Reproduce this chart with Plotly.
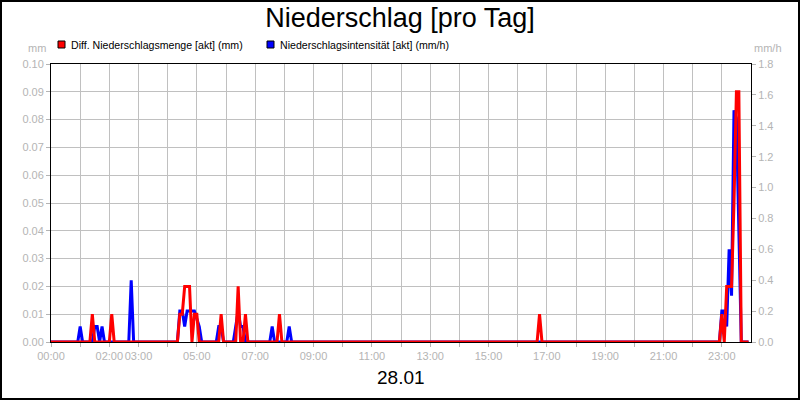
import pandas as pd
import plotly.graph_objects as go

# 5-minute values, only the non-zero ones are listed
red_times = ["01:25", "02:05",
             "04:25", "04:30", "04:35", "04:40", "04:45", "04:55", "05:00",
             "05:50", "06:25", "06:40", "07:50", "16:45",
             "23:00", "23:10", "23:15", "23:20", "23:25", "23:30", "23:35"]
red_values = [0.01, 0.01,
              0.01, 0.01, 0.02, 0.02, 0.02, 0.01, 0.01,
              0.01, 0.02, 0.01, 0.01, 0.01,
              0.01, 0.02, 0.02, 0.02, 0.05, 0.09, 0.09]

blue_times = ["01:00", "01:30", "01:35", "01:45", "02:45",
              "04:25", "04:30", "04:35", "04:40", "04:45", "04:50", "04:55", "05:00", "05:05",
              "05:45", "05:50", "06:20", "06:25", "06:30", "06:35",
              "07:35", "08:10",
              "23:00", "23:05", "23:10", "23:15", "23:20", "23:25", "23:30", "23:35"]
blue_values = [0.1, 0.1, 0.1, 0.1, 0.4,
               0.2, 0.2, 0.1, 0.2, 0.2, 0.2, 0.2, 0.15, 0.1,
               0.1, 0.1, 0.1, 0.2, 0.1, 0.1,
               0.1, 0.1,
               0.2, 0.2, 0.1, 0.6, 0.3, 1.5, 1.45, 0.7]

day = "2024-01-28"
hour_labels = ["00:00", "", "02:00", "03:00", "", "05:00", "", "07:00", "", "09:00", "",
               "11:00", "", "13:00", "", "15:00", "", "17:00", "", "19:00", "",
               "21:00", "", "23:00"]

times = pd.date_range(day + " 00:00", periods=288, freq="5min")
labels = times.strftime("%H:%M")
red_map = dict(zip(red_times, red_values))
blue_map = dict(zip(blue_times, blue_values))
red = [red_map.get(t, 0.0) for t in labels]
blue = [blue_map.get(t, 0.0) for t in labels]
hours = pd.date_range(day + " 00:00", periods=24, freq="h")

W, H = 800, 400
L, R, T, B = 51, 49, 64, 58
pw, ph = W - L - R, H - T - B


def px_x(x):
    return (x - L) / pw


def px_y(y):
    return (H - B - y) / ph


FONT = "Liberation Sans, Arial, sans-serif"
GREY = "#b4b4b4"

fig = go.Figure()

fig.add_trace(go.Scatter(
    x=times, y=blue, yaxis="y", mode="lines",
    line=dict(color="#0000ff", width=3), showlegend=False
))
fig.add_trace(go.Scatter(
    x=times, y=red, yaxis="y2", mode="lines",
    line=dict(color="#ff0000", width=3), showlegend=False
))

legend_items = [("#ff0000", "Diff. Niederschlagsmenge [akt] (mm)", 58),
                ("#0000ff", "Niederschlagsintensität [akt] (mm/h)", 267)]
shapes = []
annotations = []
for color, text, x0 in legend_items:
    shapes.append(dict(type="rect", xref="paper", yref="paper",
                       x0=px_x(x0), x1=px_x(x0 + 7), y0=px_y(48), y1=px_y(41),
                       fillcolor=color, line=dict(color="black", width=1)))
    annotations.append(dict(text=text, xref="paper", yref="paper",
                            x=px_x(x0 + 11), y=px_y(44.5), xanchor="left", yanchor="middle",
                            showarrow=False, font=dict(size=10.6, color="black", family=FONT)))

shapes.append(dict(type="rect", xref="paper", yref="paper",
                   x0=px_x(1), x1=px_x(799), y0=px_y(399), y1=px_y(1),
                   line=dict(color="black", width=2)))

annotations += [
    dict(text="mm", xref="paper", yref="paper", x=px_x(48), y=px_y(48),
         xanchor="right", yanchor="middle", showarrow=False,
         font=dict(size=11, color=GREY, family=FONT)),
    dict(text="mm/h", xref="paper", yref="paper", x=px_x(752), y=px_y(48),
         xanchor="left", yanchor="middle", showarrow=False,
         font=dict(size=11, color=GREY, family=FONT)),
    dict(text="28.01", xref="paper", yref="paper", x=0.5, y=px_y(377),
         xanchor="center", yanchor="middle", showarrow=False,
         font=dict(size=19, color="black", family=FONT)),
]

axis_common = dict(
    showline=True, linecolor="black", linewidth=1, zeroline=False,
    ticks="outside", ticklen=4, tickcolor=GREY,
    tickfont=dict(size=11, color=GREY), automargin=False, tickangle=0
)

fig.update_layout(
    width=W, height=H,
    margin=dict(l=L, r=R, t=T, b=B, autoexpand=False),
    paper_bgcolor="white", plot_bgcolor="white",
    font=dict(family=FONT, size=11, color=GREY),
    title=dict(text="Niederschlag [pro Tag]", x=0.5, xanchor="center",
               y=1 - 18 / H, yanchor="middle", yref="container",
               font=dict(size=27, color="black", family=FONT)),
    xaxis=dict(
        type="date", range=[day + " 00:00", "2024-01-29 00:00"],
        tickvals=hours, ticktext=hour_labels,
        showgrid=True, gridcolor="#c0c0c0", gridwidth=1, mirror=True,
        **axis_common
    ),
    yaxis=dict(
        side="right", range=[0, 1.8], tickvals=[i * 0.2 for i in range(10)],
        tickformat=".1f", showgrid=False, **axis_common
    ),
    yaxis2=dict(
        overlaying="y", side="left", range=[0, 0.1],
        tickvals=[i * 0.01 for i in range(11)], tickformat=".2f",
        showgrid=True, gridcolor="#c0c0c0", gridwidth=1, **axis_common
    ),
    shapes=shapes,
    annotations=annotations,
)

# the page has a default body margin, drop it so the figure sits at 0,0
fig.write_html("out.html", config={"displayModeBar": False},
               post_script="document.body.style.margin = '0';")
